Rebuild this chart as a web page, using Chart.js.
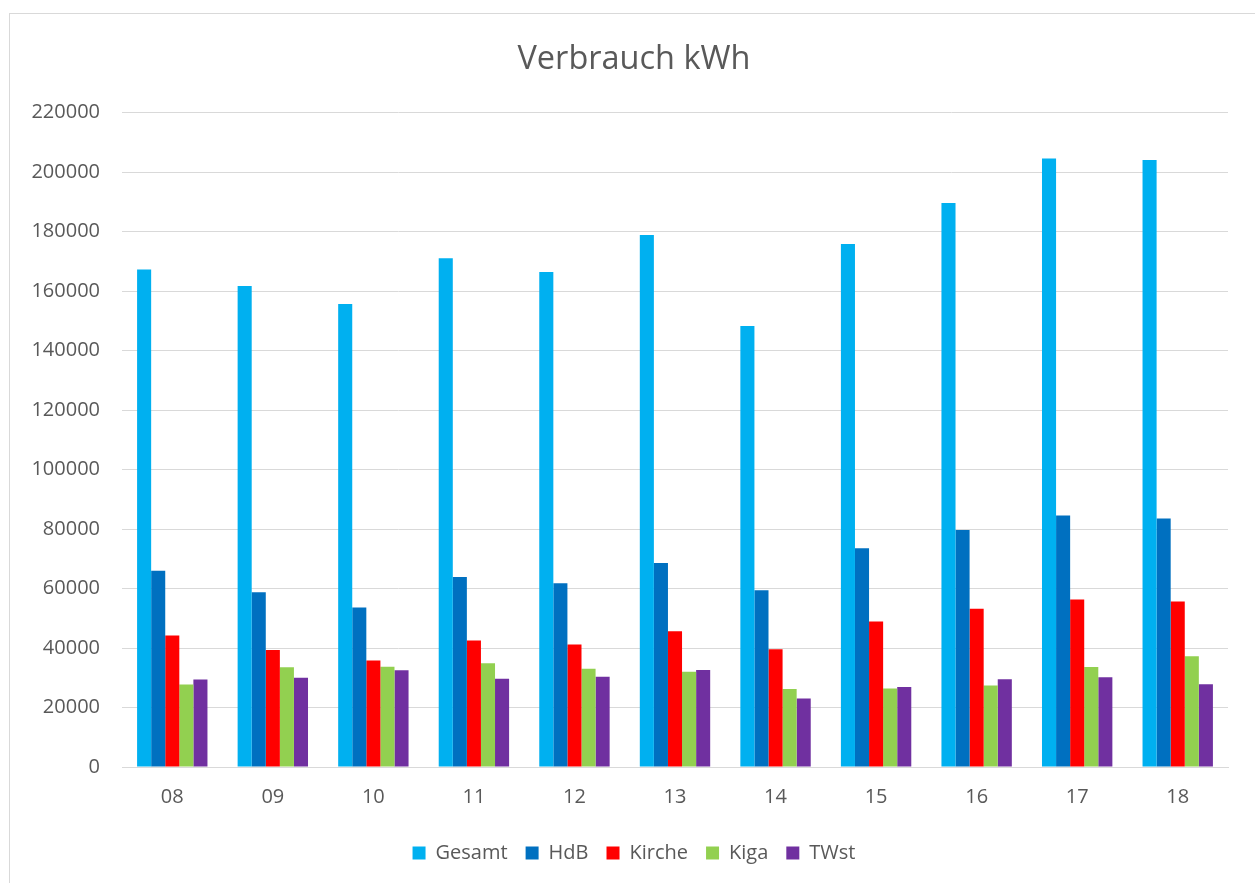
<!DOCTYPE html>
<html>
<head>
<meta charset="utf-8">
<script src="https://cdn.jsdelivr.net/npm/chart.js@4.4.0/dist/chart.umd.min.js"></script>
<style>
  html, body { margin: 0; padding: 0; background: #fff; overflow: hidden; }
  #card { position: absolute; left: 9px; top: 13px; width: 1250px; height: 880px; border: 1px solid #d9d9d9; box-sizing: border-box; background: #fff; }
  canvas { display: block; }
</style>
</head>
<body>
<div id="card"><canvas id="c" width="1248" height="878"></canvas></div>
<script>
const categories = ["08", "09", "10", "11", "12", "13", "14", "15", "16", "17", "18"];
const gesamt = [167200, 161700, 155600, 171000, 166400, 178800, 148200, 175800, 189600, 204500, 204000];
const hdb    = [66000, 58700, 53600, 63900, 61800, 68600, 59400, 73500, 79700, 84500, 83500];
const kirche = [44200, 39300, 35800, 42500, 41200, 45600, 39600, 48900, 53200, 56300, 55600];
const kiga   = [27700, 33500, 33700, 34900, 33000, 32000, 26200, 26400, 27400, 33600, 37200];
const twst   = [29400, 30000, 32500, 29700, 30300, 32600, 23000, 26900, 29500, 30200, 27800];
const seriesNames = ["Gesamt", "HdB", "Kirche", "Kiga", "TWst"];
const seriesColors = ["#00B0F0", "#0070C0", "#FF0000", "#92D050", "#7030A0"];
const seriesData = [gesamt, hdb, kirche, kiga, twst];

const FONT = "'Open Sans', 'Noto Sans', sans-serif";
const TXT = "#595959";

new Chart(document.getElementById('c'), {
  type: 'bar',
  data: {
    labels: categories,
    datasets: seriesNames.map((n, i) => ({
      label: n,
      data: seriesData[i],
      backgroundColor: seriesColors[i],
      borderWidth: 0,
      barPercentage: 1.0,
      categoryPercentage: 0.7,
      yAxisID: 'y'
    }))
  },
  options: {
    responsive: false,
    animation: false,
    devicePixelRatio: 1,
    layout: { padding: { left: 0, right: 0, top: 0, bottom: 19 } },
    plugins: {
      title: {
        display: true,
        text: 'Verbrauch kWh',
        color: TXT,
        font: { family: FONT, size: 32.5, weight: 'normal' },
        padding: { top: 26.5, bottom: 33 }
      },
      legend: {
        position: 'bottom',
        labels: {
          color: TXT,
          font: { family: FONT, size: 20 },
          boxWidth: 13,
          boxHeight: 13,
          padding: 18
        }
      },
      tooltip: { enabled: false }
    },
    scales: {
      x: {
        grid: { display: false, drawTicks: false },
        border: { display: true, color: '#d9d9d9', width: 1 },
        ticks: { color: TXT, font: { family: FONT, size: 20 }, padding: 18 },
        afterFit: s => { s.height = 58; }
      },
      y: {
        position: 'left',
        min: 0,
        max: 220000,
        grid: { color: '#d9d9d9', lineWidth: 1, drawTicks: false },
        border: { display: false },
        ticks: {
          stepSize: 20000,
          color: TXT,
          font: { family: FONT, size: 20 },
          padding: 22,
          callback: v => String(v)
        },
        afterFit: s => { s.width = 112; }
      },
      spacer: {
        position: 'right',
        type: 'linear',
        display: true,
        grid: { display: false, drawTicks: false },
        border: { display: false },
        ticks: { display: false },
        afterFit: s => { s.width = 30; }
      }
    }
  }
});
</script>
</body>
</html>
